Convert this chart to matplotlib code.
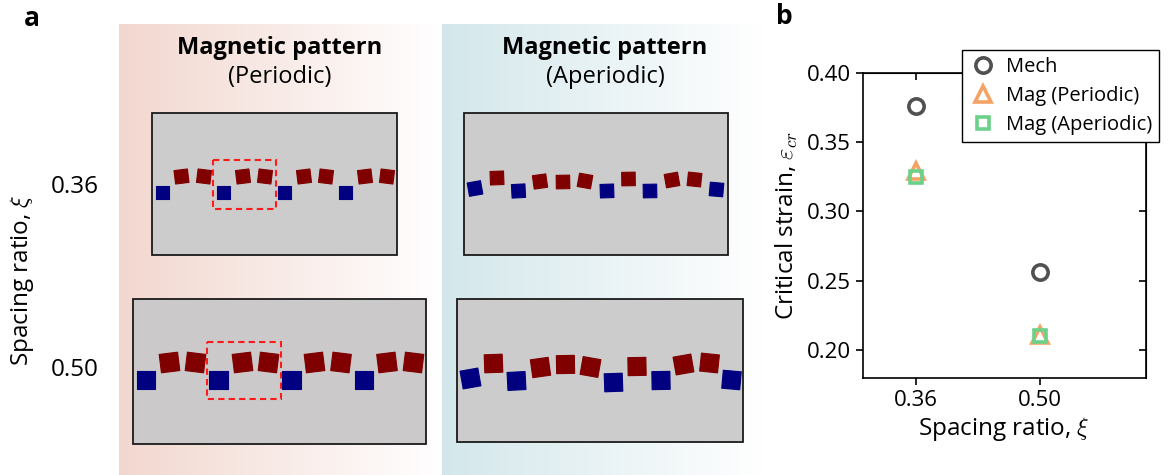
import numpy as np
import matplotlib
matplotlib.use("Agg")
import matplotlib.pyplot as plt
from matplotlib.patches import Rectangle

plt.rcParams['font.family'] = ['Open Sans', 'DejaVu Sans']
plt.rcParams['mathtext.fontset'] = 'cm'

W, H = 1169, 475

# ---- panel b data ----
spacing = [0.36, 0.50]
mech = [0.376, 0.256]
mag_periodic = [0.329, 0.211]
mag_aperiodic = [0.325, 0.210]

# ---- panel a schematic data (pixel layout of each pattern box) ----
# boxes: left, top, right, bottom, face colour
boxes = {
    'per36': (152, 113, 397, 255, '#cccccc'),
    'per50': (133, 299, 426, 444, '#cbc9c9'),
    'ape36': (464, 113, 728, 255, '#cccccc'),
    'ape50': (457, 299, 743, 442, '#cccccc'),
}
sizes = {'per36': 13.5, 'per50': 18.5, 'ape36': 13.5, 'ape50': 18}
# kind (B=blue, R=red), x centre, y centre, visual tilt (deg)
kinds_per = 'BRRBRRBRRBRR'
x_per36 = [162.5, 181.5, 204, 223.5, 243, 265, 284.5, 304, 326, 345.5, 365, 387]
y_per36 = [192.5, 176.5, 176.5] * 4
x_per50 = [146, 169.5, 195.5, 218.5, 242.5, 268.5, 291.5, 314.5, 341, 364, 387, 413.5]
y_per50 = [380, 362.5, 362.5] * 4
tilt_per = [0, 7, -7] * 4

kinds_ape = 'BRBRRRBRBRRB'
x_ape36 = [475, 497, 518.5, 540, 563, 585, 607, 628.5, 650, 672, 694.5, 716.5]
y_ape36 = [188.5, 178, 191, 181.5, 182, 181, 191, 179, 191, 180, 179.5, 189.5]
x_ape50 = [470.5, 493.5, 516.5, 540.5, 565.5, 590.5, 613.5, 637, 661, 683.5, 709.5, 731.5]
y_ape50 = [378.5, 363.5, 381, 367.5, 364.5, 367, 382.5, 366.5, 380.5, 364.5, 363, 380]
tilt_ape = [10, 2, 3, 8, 1, -10, 2, 1, 1, 10, -6, -5]

# dashed unit-cell boxes: left, top, right, bottom
cells = [(213, 160, 276, 209), (207, 342, 281, 399)]

fig = plt.figure(figsize=(W / 100, H / 100), dpi=100)

# full-figure canvas in pixel coordinates for panel a
ax0 = fig.add_axes([0, 0, 1, 1])
ax0.axis('off')


def gradient(x0, x1, c0, c1):
    c0 = np.array(matplotlib.colors.to_rgb(c0))
    c1 = np.array(matplotlib.colors.to_rgb(c1))
    t = np.linspace(0, 1, 256)[:, None]
    img = (c0 * (1 - t) + c1 * t)[None, :, :]
    ax0.imshow(img, extent=(x0, x1, H, 24), aspect='auto', zorder=0)


gradient(119, 442, '#f2d7cf', '#ffffff')
gradient(442, 765, '#d3e7eb', '#ffffff')
ax0.set_xlim(0, W)
ax0.set_ylim(H, 0)

for key, (l, t, r, b, fc) in boxes.items():
    ax0.add_patch(Rectangle((l, t), r - l, b - t, facecolor=fc,
                            edgecolor='#1a1a1a', lw=1.3, zorder=1))


def squares(kinds, xs, ys, tilts, s):
    for k, x, y, a in zip(kinds, xs, ys, tilts):
        c = '#000080' if k == 'B' else '#800000'
        ax0.add_patch(Rectangle((x - s / 2, y - s / 2), s, s, angle=-a,
                                rotation_point='center', facecolor=c,
                                edgecolor=c, lw=0.8, joinstyle='round',
                                zorder=2))


squares(kinds_per, x_per36, y_per36, tilt_per, sizes['per36'])
squares(kinds_per, x_per50, y_per50, tilt_per, sizes['per50'])
squares(kinds_ape, x_ape36, y_ape36, tilt_ape, sizes['ape36'])
squares(kinds_ape, x_ape50, y_ape50, tilt_ape, sizes['ape50'])

for l, t, r, b in cells:
    ax0.add_patch(Rectangle((l, t), r - l, b - t, fill=False,
                            edgecolor='#ff1a1a', lw=1.5, ls=(0, (3, 2)),
                            zorder=3))

ax0.text(280, 48, 'Magnetic pattern', ha='center', va='center',
         fontsize=17, fontweight='bold')
ax0.text(280, 77, '(Periodic)', ha='center', va='center', fontsize=17)
ax0.text(605, 48, 'Magnetic pattern', ha='center', va='center',
         fontsize=17, fontweight='bold')
ax0.text(605, 77, '(Aperiodic)', ha='center', va='center', fontsize=17)

ax0.text(22, 280, r'Spacing ratio, $\xi$', ha='center', va='center',
         rotation=90, fontsize=17.5)
ax0.text(75, 187, '0.36', ha='center', va='center', fontsize=17.5)
ax0.text(75, 370, '0.50', ha='center', va='center', fontsize=17.5)

ax0.text(32, 18, 'a', ha='center', va='center', fontsize=19,
         fontweight='bold')
ax0.text(784, 16, 'b', ha='center', va='center', fontsize=19,
         fontweight='bold')

# ---- panel b ----
l, t, r, b = 862.7, 72.7, 1145.7, 377.7
ax = fig.add_axes([l / W, 1 - b / H, (r - l) / W, (b - t) / H])
ax.plot(spacing, mech, 'o', ms=11, mfc='none', mec='#505050', mew=2.6,
        ls='none', label='Mech')
ax.plot(spacing, mag_periodic, '^', ms=11, mfc='none', mec='#f4a365',
        mew=2.6, ls='none', label='Mag (Periodic)')
ax.plot(spacing, mag_aperiodic, 's', ms=9, mfc='none', mec='#6bd189',
        mew=2.6, ls='none', label='Mag (Aperiodic)')
ax.set_xlim(0.30, 0.62)
ax.set_ylim(0.18, 0.40)
ax.set_xticks(spacing)
ax.set_xticklabels(['0.36', '0.50'])
ax.set_yticks([0.20, 0.25, 0.30, 0.35, 0.40])
for s in ax.spines.values():
    s.set_linewidth(1.2)
ax.tick_params(direction='out', length=5, width=1.2, labelsize=16)
sx = ax.secondary_xaxis('top')
sx.set_xticks(spacing)
sx.tick_params(direction='in', length=5, width=1.2, labeltop=False)
sy = ax.secondary_yaxis('right')
sy.set_yticks([0.20, 0.25, 0.30, 0.35, 0.40])
sy.tick_params(direction='in', length=5, width=1.2, labelright=False)
ax.set_xlabel(r'Spacing ratio, $\xi$', fontsize=17.5, labelpad=3)
ax.set_ylabel(r'Critical strain, $\varepsilon_{cr}$', fontsize=17.5,
              labelpad=5)

leg = ax.legend(loc='upper right', bbox_to_anchor=(1159 / W, 1 - 50 / H),
                bbox_transform=fig.transFigure, borderaxespad=0,
                fontsize=14.5, frameon=True, fancybox=False,
                edgecolor='black', handletextpad=0.5, handlelength=1.3,
                borderpad=0.35, labelspacing=0.45)
leg.get_frame().set_linewidth(1.0)
leg.get_frame().set_alpha(1)

fig.savefig('out.png', dpi=100)
